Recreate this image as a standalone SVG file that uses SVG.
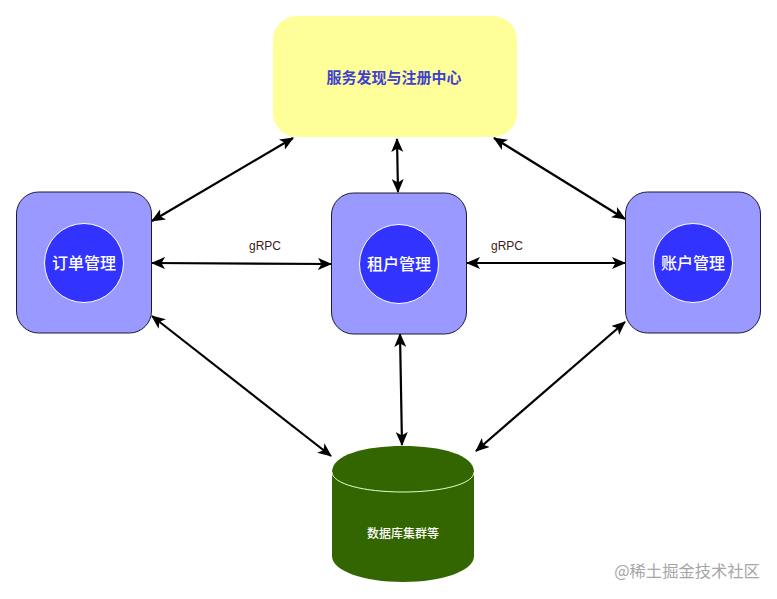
<svg xmlns="http://www.w3.org/2000/svg" width="777" height="599" viewBox="0 0 777 599">
<style>
.box{fill:#9999ff;stroke:#1a1a33;stroke-width:1}
.cir{fill:#3333ff;stroke:#fff;stroke-width:1}
.svc{font:500 16px "Noto Sans CJK SC","Liberation Sans",sans-serif;fill:#fff;text-anchor:middle}
.lbl{font:12px "Liberation Sans","Noto Sans CJK SC",sans-serif;fill:#401a1a;text-anchor:middle}
.con{fill:none;stroke:#000;stroke-width:2.200;marker-start:url(#a);marker-end:url(#a)}
</style>
<defs>
<marker id="a" viewBox="0 0 14 12" refX="13" refY="6" markerWidth="14" markerHeight="12" markerUnits="userSpaceOnUse" orient="auto-start-reverse">
<path d="M0 0L14 6L0 12L3.500 6Z" fill="#000"/>
</marker>
</defs>
<rect width="777" height="599" fill="#fff"/>
<g id="connectors">
<path class="con" d="M293 138L152 221"/>
<path class="con" d="M397 139L398 192"/>
<path class="con" d="M494 138L625 219"/>
<path class="con" d="M152 263L331 264"/>
<path class="con" d="M467 263L625 263"/>
<path class="con" d="M152 316L331 456"/>
<path class="con" d="M400 334L402 445"/>
<path class="con" d="M625 322L476 451"/>
</g>
<g id="registry">
<rect x="273" y="16" width="244" height="121" rx="24" fill="#ffff99"/>
<text x="394" y="83" font-family="'Noto Sans CJK SC',sans-serif" font-size="15" font-weight="700" fill="#3f3fd0" text-anchor="middle">服务发现与注册中心</text>
</g>
<g id="order">
<rect class="box" x="16.500" y="192" width="135" height="141" rx="22"/>
<circle class="cir" cx="84" cy="263" r="39.500"/>
<text class="svc" x="84" y="269">订单管理</text>
</g>
<g id="tenant">
<rect class="box" x="331.500" y="193" width="135" height="141" rx="22"/>
<circle class="cir" cx="399" cy="264" r="39.500"/>
<text class="svc" x="399" y="270">租户管理</text>
</g>
<g id="account">
<rect class="box" x="625.500" y="192" width="135" height="141" rx="22"/>
<circle class="cir" cx="693" cy="263" r="39.500"/>
<text class="svc" x="693" y="269">账户管理</text>
</g>
<g id="database">
<path d="M332 472C332 455 364 446 403 446C442 446 474 455 474 472V556C474 571 442 582 403 582C364 582 332 571 332 556Z" fill="#336600"/>
<path d="M332 472C332 484 364 492 403 492C442 492 474 484 474 472" fill="none" stroke="#e6ffcc" stroke-width="1"/>
<text x="403" y="538" font-family="'Noto Sans CJK SC',sans-serif" font-size="12" font-weight="500" fill="#fff" text-anchor="middle">数据库集群等</text>
</g>
<g id="labels">
<text class="lbl" x="265" y="250">gRPC</text>
<text class="lbl" x="507" y="250">gRPC</text>
</g>
<text x="687" y="577" font-family="'Noto Sans CJK SC',sans-serif" font-size="16.300" fill="#a6a6a6" text-anchor="middle">@稀土掘金技术社区</text>
</svg>
